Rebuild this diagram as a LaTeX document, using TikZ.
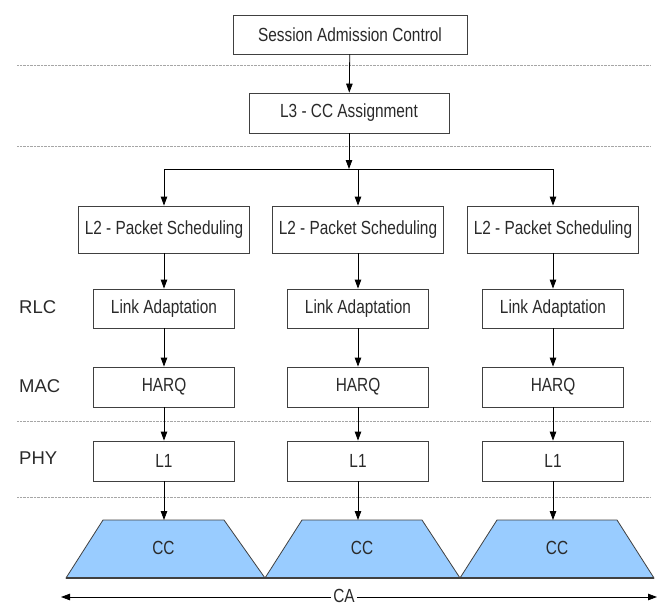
\documentclass[tikz,border=0pt]{standalone}
\usepackage{fontspec}
\setmainfont{Liberation Sans}
\newfontfamily\narrowfont[FakeStretch=0.81]{Liberation Sans}
\usetikzlibrary{arrows.meta}
\definecolor{txt}{HTML}{2A2A2A}
\definecolor{edge}{HTML}{404040}
\definecolor{ccblue}{HTML}{99CCFF}
\tikzset{
  blk/.style={draw=edge, line width=0.8pt, fill=white, inner sep=0pt, text=txt,
    font=\narrowfont\fontsize{19}{22}\selectfont},
  lay/.style={anchor=west, inner sep=0pt, text=txt, font=\fontsize{18.5}{22}\selectfont},
  sep/.style={draw=gray!70, line width=0.7pt, dash pattern=on 0.7pt off 0.7pt},
  arr/.style={draw=black, line width=0.8pt, -{Triangle[length=9pt,width=6.5pt]}},
  trap/.style={draw=edge, line width=0.8pt, fill=ccblue, line join=miter},
  cclab/.style={inner sep=0pt, text=txt, font=\narrowfont\fontsize{19}{22}\selectfont}
}
\begin{document}
\begin{tikzpicture}[x=1pt,y=-1pt]
\useasboundingbox (0,0) rectangle (659,606);
% separators
\draw[sep] (17,65) -- (650,65);
\draw[sep] (17,146) -- (650,146);
\draw[sep] (17,421) -- (650,421);
\draw[sep] (17,497) -- (650,497);
% top boxes
\node[blk, minimum width=234pt, minimum height=39pt] (sac) at (350,34.5) {Session Admission Control};
\node[blk, minimum width=200pt, minimum height=40pt] (l3) at (349,113) {L3 - CC Assignment};
\coordinate (bm) at (349,169);
\coordinate (bl) at (164,169);
\coordinate (br) at (553,169);
\coordinate (bc) at (358,169);
\draw[arr] (sac) -- (l3);
\draw[arr] (l3) -- (bm);
\draw[line width=0.8pt] (bl) -- (br);
% layer labels
\node[lay] (rlc) at (19,307) {RLC};
\node[lay] (mac) at (19,386) {MAC};
\node[lay] (phy) at (19,458) {PHY};
% columns
\foreach \i/\cx/\tl/\tr/\bl/\br in {1/164/103/224/66/265, 2/358/302/422/265/460, 3/553/497/617/460/654}{
  \node[blk, minimum width=171pt, minimum height=47pt] (ps\i) at (\cx,229.5) {L2 - Packet Scheduling};
  \node[blk, minimum width=141pt, minimum height=39pt] (la\i) at (\cx,308.5) {Link Adaptation};
  \node[blk, minimum width=141pt, minimum height=40pt] (hq\i) at (\cx,387) {HARQ};
  \node[blk, minimum width=141pt, minimum height=40pt] (lo\i) at (\cx,461) {L1};
  \draw[trap] (\bl,578) -- (\tl,520) -- (\tr,520) -- (\br,578) -- cycle;
  \coordinate (tt\i) at (\cx,520);
  \node[cclab] (cc\i) at ({(\tl+\tr)/2},548) {CC};
  \draw[arr] (la\i) -- (hq\i);
  \draw[arr] (ps\i) -- (la\i);
  \draw[arr] (hq\i) -- (lo\i);
  \draw[arr] (lo\i) -- (tt\i);
}
\draw[arr] (bl) -- (bl |- ps1.north);
\draw[arr] (bc) -- (bc |- ps2.north);
\draw[arr] (br) -- (br |- ps3.north);
\draw[edge, line width=1.2pt] (66,578) -- (654,578);
% CA arrow
\node[cclab, fill=white, inner xsep=2pt] (ca) at (344,596) {CA};
\coordinate (cal) at (61,597);
\coordinate (car) at (657,597);
\draw[arr] (ca.west |- cal) -- (cal);
\draw[arr] (ca.east |- car) -- (car);
\end{tikzpicture}
\end{document}
